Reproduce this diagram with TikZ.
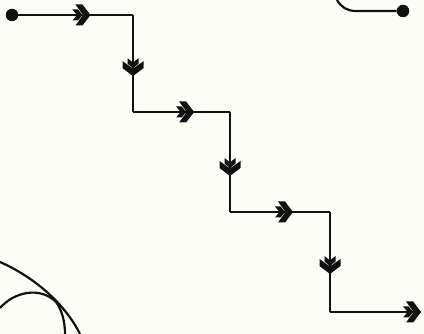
\documentclass[tikz,border=0pt]{standalone}
\usepackage{tikz}
\usetikzlibrary{decorations.markings}
\definecolor{inkBlack}{HTML}{111111}
\definecolor{paperBg}{HTML}{FDFDF8}
% double chevron drawn in the marking's own frame (tip at the origin)
\newcommand{\chevmark}{%
  \fill[inkBlack] (1,0) -- (-7,10.5) -- (-14,10.5) -- (-6.5,0) -- (-14,-10.5) -- (-7,-10.5) -- cycle;
  \fill[inkBlack] (-7,0) -- (-11.5,5.5) -- (-17,5.5) -- (-12.5,0) -- (-17,-5.5) -- (-11.5,-5.5) -- cycle;}

\begin{document}
\begin{tikzpicture}[
  x=1pt, y=-1pt,
  wire/.style={draw=inkBlack, line width=2.2pt},
  dot/.style={circle, fill=inkBlack, inner sep=0pt, minimum size=12.5pt},
  chev/.style={wire, postaction={decorate},
               decoration={markings, mark=at position #1 with {\chevmark}}},
]
  \fill[paperBg] (0,0) rectangle (424,334);
  \useasboundingbox (0,0) rectangle (424,334);

  % ═══ Staircase: corners of the stepped line ═══
  \node[dot] (start) at (12,15) {};
  \coordinate (c1)  at (133,15);
  \coordinate (c2)  at (133,112);
  \coordinate (c3)  at (230,112);
  \coordinate (c4)  at (230,212);
  \coordinate (c5)  at (330,212);
  \coordinate (c6)  at (330,312);
  \coordinate (fin) at (421,312);

  \draw[chev=0.62] (start) -- (c1);
  \draw[chev=0.62] (c1) -- (c2);
  \draw[chev=0.62] (c2) -- (c3);
  \draw[chev=0.63] (c3) -- (c4);
  \draw[chev=0.62] (c4) -- (c5);
  \draw[chev=0.61] (c5) -- (c6);
  \draw[chev=0.99] (c6) -- (fin);

  % ═══ Top right: hooked lead ending in a dot ═══
  \node[dot] (tr) at (403,11) {};
  \coordinate (trin) at (337,0);
  \coordinate (trbend) at (356,11);
  \draw[wire] (trin) to[out=-60, in=180] (trbend) -- (tr);

  % Bottom left arcs
  \draw[wire] (0,262) .. controls (32,276) and (64,302) .. (80,334);
  \draw[wire] (0,308) .. controls (14,292) and (40,286) .. (56,302)
              .. controls (62,310) and (65,322) .. (65,334);
\end{tikzpicture}
\end{document}
